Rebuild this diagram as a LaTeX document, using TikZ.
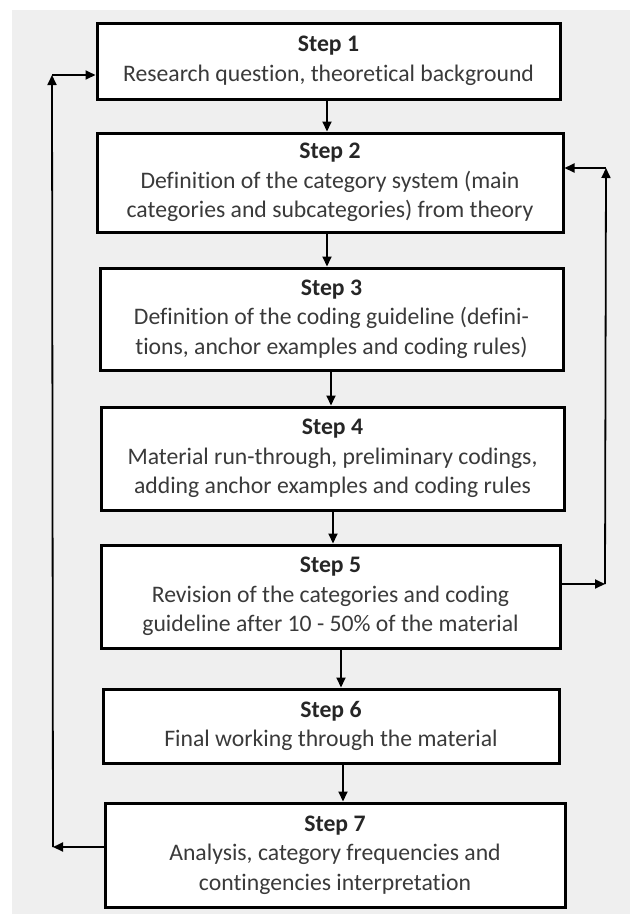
\documentclass[tikz,border=0pt]{standalone}
\usepackage{fontspec}
\setmainfont{Carlito}[Ligatures=NoCommon]
\usetikzlibrary{arrows.meta}
\definecolor{bggray}{HTML}{EFEFEF}
\definecolor{txtgray}{HTML}{3A3A3A}
\tikzset{
  stepbox/.style={draw=black, line width=3pt, fill=white, align=center,
    inner sep=0pt, text=txtgray, font=\fontsize{23.7}{29.5}\selectfont},
  arr/.style={draw=black, line width=1.8pt, -{Triangle[length=10pt,width=9pt]}}
}
\newcommand{\steplabel}[1]{{\bfseries\color{black!85}#1}}
\begin{document}
\begin{tikzpicture}[x=1pt,y=-1pt]
\useasboundingbox (0,0) rectangle (630,914);
\fill[bggray] (12,10) rectangle (630,914);

\node[stepbox, minimum width=463pt, minimum height=76pt] (b1) at (328.5,61)
  {\steplabel{Step 1}\\Research question, theoretical background};
\node[stepbox, minimum width=466pt, minimum height=99pt] (b2) at (330,182.5)
  {\steplabel{Step 2}\\Definition of the category system (main\\categories and subcategories) from theory};
\node[stepbox, minimum width=463pt, minimum height=102pt] (b3) at (331.5,319)
  {\steplabel{Step 3}\\Definition of the coding guideline (defini-\\tions, anchor examples and coding rules)};
\node[stepbox, minimum width=463pt, minimum height=103pt] (b4) at (332.5,458.5)
  {\steplabel{Step 4}\\Material run-through, preliminary codings,\\adding anchor examples and coding rules};
\node[stepbox, minimum width=459pt, minimum height=103pt] (b5) at (330.5,596.5)
  {\steplabel{Step 5}\\Revision of the categories and coding\\guideline after 10 - 50\% of the material};
\node[stepbox, minimum width=456pt, minimum height=74pt] (b6) at (331,726)
  {\steplabel{Step 6}\\Final working through the material};
\node[stepbox, minimum width=460pt, minimum height=104pt] (b7) at (335,855)
  {\steplabel{Step 7}\\Analysis, category frequencies and\\contingencies interpretation};

% main flow
\draw[arr] ([xshift=-1.5pt]b1.south) -- ([xshift=-1.5pt]b1.south |- b2.north);
\draw[arr] ([xshift=-3pt]b2.south) -- ([xshift=-3pt]b2.south |- b3.north);
\draw[arr] ([xshift=-0.5pt]b3.south) -- ([xshift=-0.5pt]b3.south |- b4.north);
\draw[arr] ([xshift=0.5pt]b4.south) -- ([xshift=0.5pt]b4.south |- b5.north);
\draw[arr] ([xshift=10.5pt]b5.south) -- ([xshift=10.5pt]b5.south |- b6.north);
\draw[arr] ([xshift=12pt]b6.south) -- ([xshift=12pt]b6.south |- b7.north);

% left feedback loop
\coordinate (L7) at (53,847);
\coordinate (L1) at (52,75);
\draw[arr] ([yshift=8pt]b7.west) -- (L7);
\draw[arr] (L7) -- (L1);
\draw[arr] (L1) -- (b1.west |- L1);

% right feedback loop
\coordinate (R5) at (605,584);
\coordinate (R2) at (606,168);
\draw[arr] (b5.east |- R5) -- (R5);
\draw[arr] (R5) -- (R2);
\draw[arr] (R2) -- (b2.east |- R2);
\end{tikzpicture}
\end{document}
